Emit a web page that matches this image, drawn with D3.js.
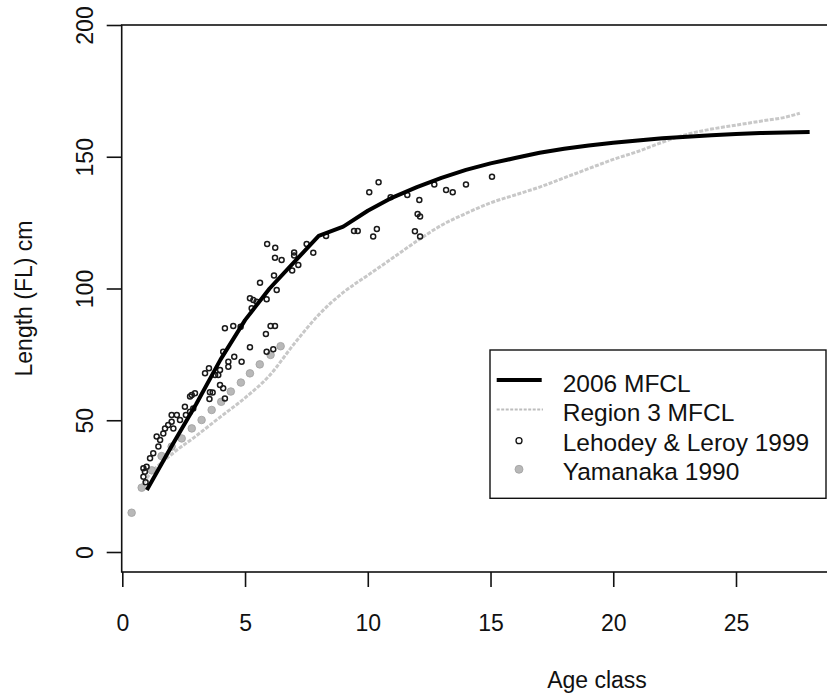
<!DOCTYPE html>
<html>
<head>
<meta charset="utf-8">
<script src="https://cdn.jsdelivr.net/npm/d3@7/dist/d3.min.js"></script>
<style>
  html, body { margin: 0; padding: 0; background: #fff; }
  svg { display: block; font-family: "Liberation Sans", Arial, sans-serif; }
</style>
</head>
<body>
<svg id="chart" width="827" height="698"></svg>
<script>
// Growth curves (age class vs fork length, cm)
const mfclAge = [1, 2, 3, 4, 5, 6, 7, 8, 9, 10, 11, 12, 13, 14, 15, 16, 17, 18, 19, 20, 21, 22, 23, 24, 25, 26, 27, 28];
const mfclLen = [23.5, 40, 56, 73, 88, 100, 110, 120, 123.5, 129.5, 134.5, 138.5, 142, 145, 147.5, 149.5, 151.5, 153, 154.3, 155.3, 156.2, 157, 157.6, 158.2, 158.6, 159, 159.2, 159.4];

const region3Age = [0.75, 1, 2, 3, 4, 5, 6, 7, 8, 9, 10, 11, 12, 13, 14, 15, 16, 17, 18, 19, 20, 21, 22, 23, 24, 25, 26, 27, 27.6];
const region3Len = [24.5, 28, 37, 44, 51.3, 58.5, 67, 79, 90, 98.5, 105, 111.5, 118, 124, 128.5, 132.5, 135.5, 138.5, 142, 145.5, 149, 152, 155.5, 158.5, 160.5, 162, 163.5, 165, 166.5];

// Length-at-age observations
const lehodeyAge = [0.86, 0.92, 0.86, 0.99, 0.95, 1.13, 1.26, 1.47, 1.4, 1.54, 1.67, 1.74, 1.87, 2.01, 2.01, 2.22, 2.08, 2.35, 2.55, 2.76, 2.89, 2.83, 2.96, 2.76, 2.59,
  3.57, 3.55, 3.68, 3.37, 3.53, 3.91, 3.78, 3.98, 4.11, 4.18, 4.32, 4.32, 4.11, 4.56, 4.86, 3.98, 4.18, 4.52, 4.82, 5.2, 5.88, 6.15, 5.85, 6.04, 6.22,
  5.2, 5.34, 5.47, 5.27, 5.88, 6.29, 5.61, 6.18, 5.9, 6.23, 6.22, 6.49, 7.0, 7.0, 7.17, 6.92, 7.51, 7.78, 8.3, 9.44, 9.59, 10.22,
  10.06, 10.44, 10.37, 10.93, 11.61, 12.1, 12.03, 12.13, 11.92, 12.13, 12.71, 13.19, 13.46, 14.0, 15.06];
const lehodeyLen = [28.6, 30.5, 31.8, 32.4, 26.5, 35.6, 37.5, 40, 43.8, 42.5, 45, 46.9, 48.2, 49.4, 52, 52, 46.9, 50.1, 55.1, 53.2, 54.5, 59.6, 60.2, 59, 52,
  60.6, 58.1, 60.5, 67.8, 69.7, 67.2, 67.2, 63.4, 62.1, 58.3, 72.2, 70.3, 76, 74.1, 72.2, 69.1, 84.9, 85.8, 85.5, 77.7, 76, 76.9, 82.7, 85.8, 85.8,
  96.3, 95.6, 95, 92.5, 95.9, 99.4, 102.2, 104.9, 116.9, 115.5, 111.7, 110.8, 113.7, 112.5, 108.9, 106.8, 116.9, 113.6, 119.9, 121.8, 121.8, 119.7,
  136.5, 140.3, 122.6, 134.6, 135.5, 133.6, 128.3, 127.3, 121.7, 119.7, 139.5, 137.4, 136.5, 139.5, 142.4];

const yamanakaAge = [0.38, 0.79, 1.2, 1.6, 2.01, 2.42, 2.83, 3.23, 3.64, 4.03, 4.42, 4.83, 5.2, 5.6, 6.04, 6.45];
const yamanakaLen = [14.9, 24.4, 31, 36.4, 40, 43.1, 46.9, 50.1, 53.9, 57, 60.9, 64.3, 67.8, 71.2, 74.8, 78.1];

const xTicks = [0, 5, 10, 15, 20, 25];
const yTicks = [0, 50, 100, 150, 200];
const legendLabels = ["2006 MFCL", "Region 3 MFCL", "Lehodey & Leroy 1999", "Yamanaka 1990"];

const svg = d3.select("#chart");
const x = d3.scaleLinear().domain([0, 25]).range([122.3, 736]);
const y = d3.scaleLinear().domain([0, 200]).range([552, 25]);

const boxLeft = 121.7, boxTop = y(200), boxBottom = 572, boxRight = 1072;
const FONT = 23;

// plot frame (runs off the right edge)
svg.append("rect")
  .attr("x", boxLeft).attr("y", boxTop)
  .attr("width", boxRight - boxLeft).attr("height", boxBottom - boxTop)
  .attr("fill", "none").attr("stroke", "#111").attr("stroke-width", 1.6);

// x axis
const gx = svg.append("g")
  .attr("transform", `translate(0,${boxBottom})`)
  .call(d3.axisBottom(x).tickValues(xTicks).tickSize(15).tickFormat(d3.format("d")));
gx.select(".domain").remove();
gx.selectAll(".tick line").attr("stroke", "#111").attr("stroke-width", 1.6);
gx.selectAll(".tick text")
  .attr("y", 58.7).attr("dy", 0)
  .attr("font-size", FONT).attr("font-family", "Liberation Sans, Arial, sans-serif").attr("fill", "#111");

// y axis
const gy = svg.append("g")
  .attr("transform", `translate(${boxLeft},0)`)
  .call(d3.axisLeft(y).tickValues(yTicks).tickSize(15).tickFormat(d3.format("d")));
gy.select(".domain").remove();
gy.selectAll(".tick line").attr("stroke", "#111").attr("stroke-width", 1.6);
gy.selectAll(".tick text")
  .attr("transform", "rotate(-90)")
  .attr("x", 0).attr("y", -28.4).attr("dy", 0)
  .attr("text-anchor", "middle")
  .attr("font-size", FONT).attr("font-family", "Liberation Sans, Arial, sans-serif").attr("fill", "#111");

// axis titles
svg.append("text")
  .attr("x", 597).attr("y", 688)
  .attr("text-anchor", "middle").attr("font-size", FONT).attr("fill", "#111")
  .text("Age class");
svg.append("text")
  .attr("transform", `translate(32,${(boxTop + boxBottom) / 2}) rotate(-90)`)
  .attr("text-anchor", "middle").attr("font-size", FONT).attr("fill", "#111")
  .text("Length (FL) cm");

const line = d3.line().x(d => x(d[0])).y(d => y(d[1]));

// Region 3 MFCL curve (light grey)
svg.append("path")
  .datum(d3.zip(region3Age, region3Len))
  .attr("d", line.curve(d3.curveMonotoneX))
  .attr("fill", "none").attr("stroke", "#c8c8c8").attr("stroke-width", 3)
  .attr("stroke-dasharray", "4,1.5");

// Yamanaka 1990 points (grey filled)
svg.append("g").selectAll("circle")
  .data(d3.zip(yamanakaAge, yamanakaLen))
  .join("circle")
  .attr("cx", d => x(d[0])).attr("cy", d => y(d[1])).attr("r", 3.8)
  .attr("fill", "#b8b8b8").attr("stroke", "#a0a0a0").attr("stroke-width", 0.8);

// Lehodey & Leroy 1999 points (open circles)
svg.append("g").selectAll("circle")
  .data(d3.zip(lehodeyAge, lehodeyLen))
  .join("circle")
  .attr("cx", d => x(d[0])).attr("cy", d => y(d[1])).attr("r", 2.5)
  .attr("fill", "none").attr("stroke", "#1a1a1a").attr("stroke-width", 1.5);

// 2006 MFCL curve
svg.append("path")
  .datum(d3.zip(mfclAge, mfclLen))
  .attr("d", line.curve(d3.curveLinear))
  .attr("fill", "none").attr("stroke", "#000").attr("stroke-width", 4)
  .attr("stroke-linejoin", "round");

// legend
const lg = svg.append("g");
lg.append("rect")
  .attr("x", 490).attr("y", 350).attr("width", 336).attr("height", 148.3)
  .attr("fill", "#fff").attr("stroke", "#111").attr("stroke-width", 1.4);
const rowBase = [391.7, 421, 450.5, 480];
lg.append("line").attr("x1", 496.7).attr("x2", 541.7).attr("y1", 380).attr("y2", 380)
  .attr("stroke", "#000").attr("stroke-width", 4);
lg.append("line").attr("x1", 496.7).attr("x2", 543).attr("y1", 409.5).attr("y2", 409.5)
  .attr("stroke", "#bdbdbd").attr("stroke-width", 2).attr("stroke-dasharray", "3,1.5");
lg.append("circle").attr("cx", 519).attr("cy", 440.7).attr("r", 3)
  .attr("fill", "none").attr("stroke", "#111").attr("stroke-width", 1.3);
lg.append("circle").attr("cx", 519).attr("cy", 469.3).attr("r", 4)
  .attr("fill", "#b8b8b8").attr("stroke", "#a0a0a0").attr("stroke-width", 0.8);
lg.selectAll("text.lab")
  .data(legendLabels)
  .join("text")
  .attr("class", "lab")
  .attr("x", 562.7).attr("y", (d, i) => rowBase[i])
  .attr("font-size", 24.5).attr("fill", "#111")
  .text(d => d);
</script>
</body>
</html>
